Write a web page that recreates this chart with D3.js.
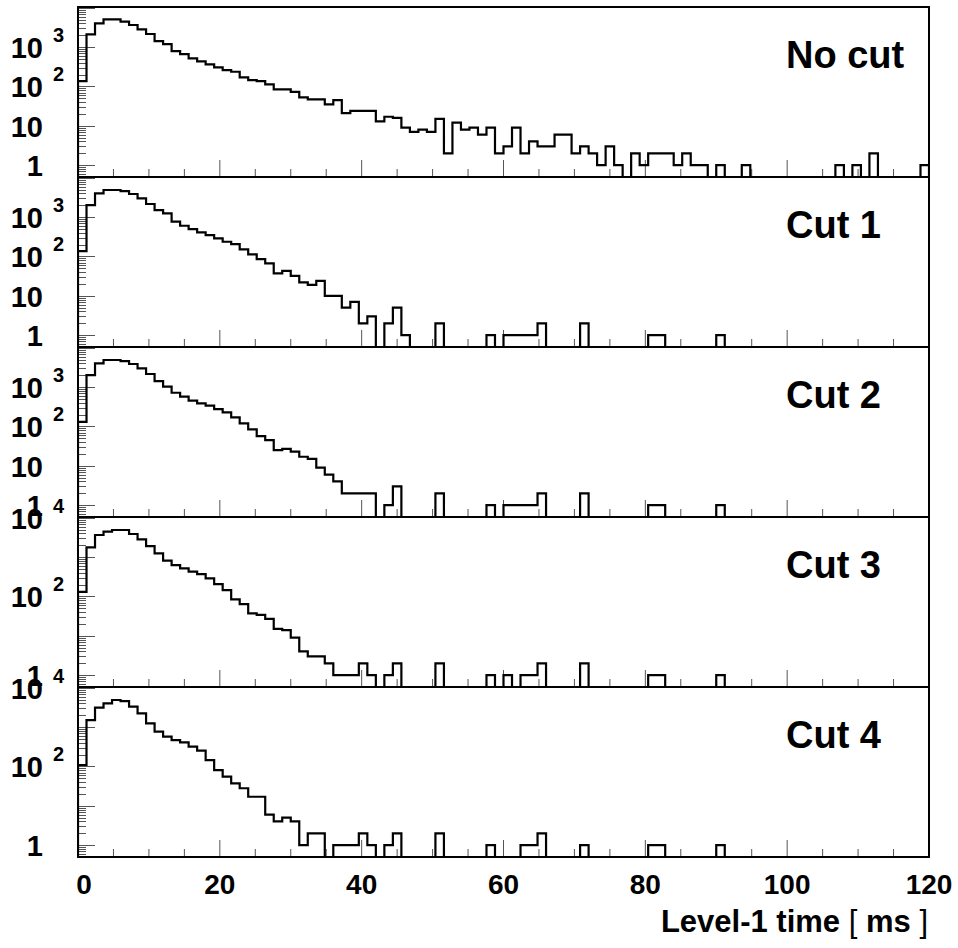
<!DOCTYPE html>
<html><head><meta charset="utf-8">
<script src="https://cdn.jsdelivr.net/npm/d3@7"></script>
<style>body{margin:0;background:#fff}svg{display:block}</style>
</head><body>
<script>
// ---- data ----
const xMin = 0, xMax = 120, nBins = 100;
const panelLabels = ["No cut", "Cut 1", "Cut 2", "Cut 3", "Cut 4"];
const noCut = [137,2110,4030,5090,5090,4440,3650,2830,2160,1430,
  1200,795,667,517,434,364,305,261,237,170,
  145,137,113,84,84,73,53,47,47,35,
  45,21,24,24,24,13,17,16,9,7,
  8,7,15,2,12,8,9,6,9,2,
  3,9,2,4,3,3,6,6,2,3,
  2,1,3,1,0,2,1,2,2,2,
  1,2,1,1,0,1,0,0,1,0,
  0,0,0,0,0,0,0,0,0,1,
  0,1,0,2,0,0,0,0,0,1];
const cut1 = [137,2030,4030,4890,4890,4610,3870,3000,2160,1515,
  1250,765,605,498,410,350,288,237,207,151,
  113,86,67,37,43,32,22,19,24,10,
  10,5,7,2,3,0,2,5,1,0,
  0,0,2,0,0,0,0,0,1,0,
  1,1,1,1,2,0,0,0,0,2,
  0,0,0,0,0,0,0,1,1,0,
  0,0,0,0,0,1,0,0,0,0,
  0,0,0,0,0,0,0,0,0,0,
  0,0,0,0,0,0,0,0,0,0];
const cut2 = [131,2030,4030,4890,4890,4610,3870,3000,2160,1430,
  1025,721,571,452,386,337,277,228,170,120,
  84,57,45,25,27,23,17,15,9,6,
  4,2,2,2,2,0,1,3,0,0,
  0,0,2,0,0,0,0,0,1,0,
  1,1,1,1,2,0,0,0,0,2,
  0,0,0,0,0,0,0,1,1,0,
  0,0,0,0,0,1,0,0,0,0,
  0,0,0,0,0,0,0,0,0,0,
  0,0,0,0,0,0,0,0,0,0];
const cut3 = [131,1774,3650,4440,4890,4890,3870,2830,1915,1247,
  811,630,517,426,371,288,207,145,84,64,
  37,34,27,15,14,9,4,3,3,2,
  1,1,1,2,1,0,1,2,0,0,
  0,0,2,0,0,0,0,0,1,0,
  1,0,1,1,2,0,0,0,0,2,
  0,0,0,0,0,0,0,1,1,0,
  0,0,0,0,0,1,0,0,0,0,
  0,0,0,0,0,0,0,0,0,0,
  0,0,0,0,0,0,0,0,0,0];
const cut4 = [109,1515,3120,4030,4890,4610,3310,2240,1250,765,
  571,470,410,318,252,145,81,55,37,28,
  17,17,6,4,5,4,1,2,2,0,
  1,1,1,2,1,0,1,2,0,0,
  0,0,2,0,0,0,0,0,1,0,
  0,0,1,1,2,0,0,0,0,1,
  0,0,0,0,0,0,0,1,1,0,
  0,0,0,0,0,1,0,0,0,0,
  0,0,0,0,0,0,0,0,0,0,
  0,0,0,0,0,0,0,0,0,0];
const series = [noCut, cut1, cut2, cut3, cut4];
const xTickLabels = [0, 20, 40, 60, 80, 100, 120];
const yLabelsDense = [1, 10, 100, 1000];
const yLabelsSparse = [1, 100, 10000];
const yLabelSets = [yLabelsDense, yLabelsDense, yLabelsDense, yLabelsSparse, yLabelsSparse];
const xTitle = "Level-1 time";
const xUnit = "ms";

// ---- layout ----
const W = 958, H = 948, L = 78, R = 929, T = 7, PH = 170;
const FONT = "'Liberation Sans', Arial, Helvetica, sans-serif";
const svg = d3.select("body").append("svg").attr("width", W).attr("height", H)
  .style("font-family", FONT);
const x = d3.scaleLinear().domain([xMin, xMax]).range([L, R]);
const binW = (xMax - xMin) / nBins;

series.forEach((vals, p) => {
  const top = T + p * PH, bot = top + PH;
  const y = d3.scaleLog().domain([0.5, 10480]).range([bot, top]);
  const g = svg.append("g");
  const cid = "clip" + p;
  svg.append("clipPath").attr("id", cid).append("rect")
    .attr("x", L).attr("y", top - 1).attr("width", R - L).attr("height", PH + 2);

  // x ticks (bottom, pointing up)
  const xt = d3.range(xMin, xMax + 0.01, 5);
  g.selectAll(".xt").data(xt).join("line")
    .attr("x1", d => x(d)).attr("x2", d => x(d))
    .attr("y1", bot).attr("y2", d => bot - (d % 20 === 0 ? 17 : 8))
    .attr("stroke", "#555").attr("stroke-width", 1);

  // y ticks (left, pointing right)
  const yt = [];
  for (let e = -1; e <= 4; e++) for (let m = 1; m <= 9; m++) {
    const v = m * Math.pow(10, e);
    if (v >= 0.5 && v <= 10480) yt.push({ v, major: m === 1 });
  }
  g.selectAll(".yt").data(yt).join("line")
    .attr("x1", L).attr("x2", d => L + (d.major ? 17 : 8))
    .attr("y1", d => Math.round(y(d.v)) + 0.5).attr("y2", d => Math.round(y(d.v)) + 0.5)
    .attr("stroke", "#555").attr("stroke-width", 1);

  // histogram
  const pts = [[x(xMin), bot]];
  vals.forEach((v, i) => {
    const yy = v > 0 ? y(v) : bot;
    pts.push([x(xMin + i * binW), yy]);
    pts.push([x(xMin + (i + 1) * binW), yy]);
  });
  pts.push([x(xMax), bot]);
  g.append("path").attr("d", d3.line()(pts))
    .attr("fill", "none").attr("stroke", "#000").attr("stroke-width", 2.2)
    .attr("stroke-linejoin", "miter").attr("clip-path", `url(#${cid})`);

  // frame
  g.append("rect").attr("x", L).attr("y", top).attr("width", R - L).attr("height", PH)
    .attr("fill", "none").attr("stroke", "#000").attr("stroke-width", 2);

  // y labels
  yLabelSets[p].forEach(v => {
    const yy = y(v);
    const ex = Math.round(Math.log10(v));
    if (ex === 0 || ex === 1) {
      svg.append("text").attr("x", 43).attr("y", yy + 11).attr("text-anchor", "end")
        .attr("font-size", 29).attr("font-weight", "bold").text(ex === 0 ? "1" : "10");
    } else {
      svg.append("text").attr("x", 43).attr("y", yy + 11).attr("text-anchor", "end")
        .attr("font-size", 29).attr("font-weight", "bold").text("10");
      svg.append("text").attr("x", 53).attr("y", yy - 5).attr("text-anchor", "start")
        .attr("font-size", 20).attr("font-weight", "bold").text(String(ex));
    }
  });

  // panel label
  svg.append("text").attr("x", 786).attr("y", top + 61)
    .attr("font-size", 38).attr("font-weight", "bold").text(panelLabels[p]);
});

// x tick labels
svg.selectAll(".xl").data(xTickLabels).join("text")
  .attr("x", d => x(d) + (d === xMin ? 6 : 0)).attr("y", 894).attr("text-anchor", "middle")
  .attr("font-size", 28).attr("font-weight", "bold").text(d => d);

// x title
const tt = svg.append("text").attr("x", 928).attr("y", 932).attr("text-anchor", "end")
  .attr("font-size", 31);
tt.append("tspan").attr("font-weight", "bold").text(xTitle + " ");
tt.append("tspan").attr("font-weight", "normal").text("[ ");
tt.append("tspan").attr("font-weight", "bold").text(xUnit);
tt.append("tspan").attr("font-weight", "normal").text(" ]");
</script>
</body></html>
